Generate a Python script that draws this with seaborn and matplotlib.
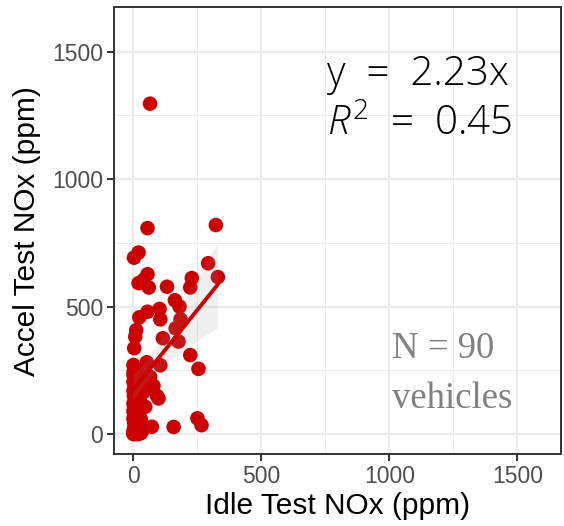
import matplotlib
matplotlib.use("Agg")
import matplotlib.pyplot as plt
from matplotlib.ticker import MultipleLocator
import seaborn as sns
import pandas as pd

# Idle test NOx (ppm) and accel test NOx (ppm) for 90 vehicles
idle_nox = [65, 55, 322, 20, 2, 292, 330, 55, 40, 20,
            60, 131, 228, 222, 162, 180, 102, 55, 23, 105,
            184, 165, 11, 7, 115, 176, 3, 222, 254, 0,
            52, 105, 65, 0, 46, 78, 92, 98, 46, 72,
            157, 250, 266, 26, 0,
            0, 2, 5, 8, 10, 3, 12, 0, 6, 15,
            0, 4, 10, 20, 25, 30, 18, 0, 8, 14,
            2, 6, 0, 12, 20, 4, 0, 10, 16, 22,
            28, 35, 40, 12, 5, 0, 7, 3, 18, 9,
            1, 14, 30, 35, 40]
accel_nox = [1296, 808, 820, 712, 692, 670, 616, 627, 605, 592,
             575, 578, 612, 575, 525, 500, 491, 480, 458, 450,
             450, 415, 408, 382, 376, 363, 337, 310, 256, 271,
             282, 270, 225, 232, 232, 190, 150, 140, 107, 29,
             28, 62, 35, 3, 4,
             10, 20, 0, 15, 30, 45, 55, 60, 75, 80,
             90, 100, 110, 40, 20, 5, 0, 120, 130, 140,
             150, 160, 170, 175, 185, 195, 205, 215, 125, 95,
             60, 15, 30, 5, 35, 0, 65, 85, 160, 190,
             245, 255, 120, 200, 165]

df = pd.DataFrame({"idle": idle_nox, "accel": accel_nox})

eq_text = "y  =  2.23x"
r2_text = r"$R^{2}$  =  0.45"
n_text = "N = 90"
veh_text = "vehicles"
x_label = "Idle Test NOx (ppm)"
y_label = "Accel Test NOx (ppm)"
ticks = [0, 500, 1000, 1500]

sns.set_style("white")
plt.rcParams["font.family"] = ["Liberation Sans", "DejaVu Sans"]
plt.rcParams["mathtext.fontset"] = "custom"
plt.rcParams["mathtext.it"] = "Open Sans:italic:light"
plt.rcParams["mathtext.rm"] = "Open Sans:light"

RED = "#CC0000"
fig = plt.figure(figsize=(5.64, 5.26), dpi=100)
ax = fig.add_axes([0.2021, 0.1369, 0.7920, 0.8492])

sns.scatterplot(data=df, x="idle", y="accel", ax=ax, color=RED, s=110,
                edgecolor="none", linewidth=0, zorder=3)
sns.regplot(data=df, x="idle", y="accel", ax=ax, scatter=False, ci=95,
            color="#999999", line_kws={"color": RED, "linewidth": 2.8, "zorder": 5},
            seed=1)
for coll in ax.collections[1:]:
    coll.set_facecolor((0.6, 0.6, 0.6, 0.25))
    coll.set_edgecolor("none")
    coll.set_zorder(4)

ax.set_xlim(-76, 1669)
ax.set_ylim(-78, 1674)
ax.set_xticks(ticks)
ax.set_yticks(ticks)
ax.xaxis.set_minor_locator(MultipleLocator(250))
ax.yaxis.set_minor_locator(MultipleLocator(250))
ax.grid(which="major", color="#ebebeb", linewidth=1.5, zorder=0)
ax.grid(which="minor", color="#ebebeb", linewidth=0.75, zorder=0)
ax.set_axisbelow(True)
for sp in ax.spines.values():
    sp.set_color("#333333")
    sp.set_linewidth(1.4)
ax.tick_params(which="major", length=5, width=1.4, color="#333333",
               labelcolor="#4d4d4d", labelsize=16.5, pad=3, direction="out",
               bottom=True, left=True)
ax.tick_params(which="minor", length=0)

ax.set_xlabel(x_label, fontsize=21.5, color="black", labelpad=3)
ax.set_ylabel(y_label, fontsize=21.5, color="black", labelpad=8)

eq_style = dict(fontsize=29, family="Open Sans", fontweight="light",
                color="black", ha="left", va="baseline")
ax.text(757, 1369, eq_text, **eq_style)
ax.text(757, 1173, r2_text, **eq_style)
ax.text(1010, 298, n_text, fontsize=26.5, family="Liberation Serif",
        color="#808080", ha="left", va="baseline")
ax.text(1010, 102, veh_text, fontsize=26.5, family="Liberation Serif",
        color="#808080", ha="left", va="baseline")

fig.savefig("out.png", dpi=100)
